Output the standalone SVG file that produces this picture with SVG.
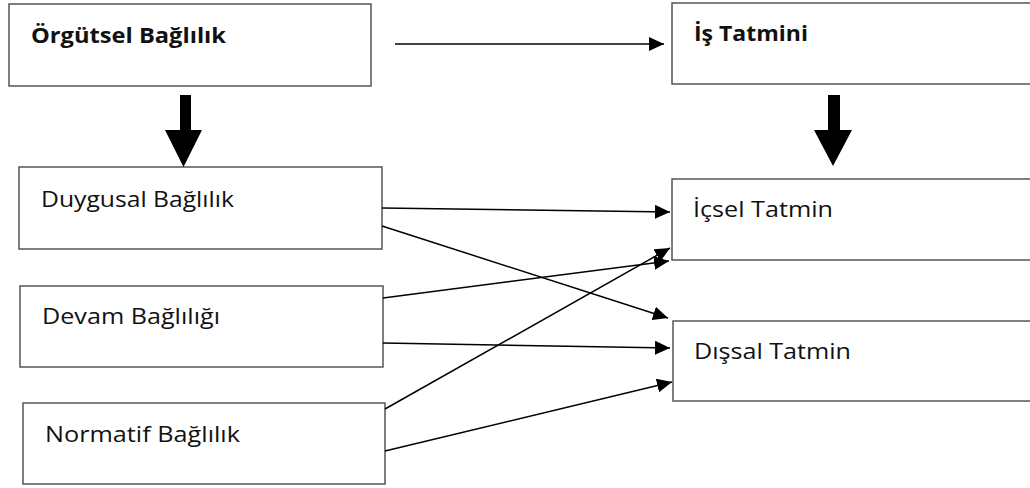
<svg xmlns="http://www.w3.org/2000/svg" width="1030" height="488" viewBox="0 0 1030 488">
<style>
.box{fill:#fff;stroke:#555;stroke-width:1.5}
.t{font-family:"Open Sans","DejaVu Sans",sans-serif;font-size:22px;fill:#111}
.b{font-weight:bold;font-size:21px}
.c{stroke:#000;stroke-width:1.5;fill:none;marker-end:url(#ah)}
.big{fill:#000}
</style>
<defs>
<marker id="ah" markerUnits="userSpaceOnUse" markerWidth="16" markerHeight="14" viewBox="0 0 16 14" refX="15" refY="7" orient="auto">
<path d="M0,0 L15,7 L0,14 Z" fill="#000"/>
</marker>
</defs>
<rect width="1030" height="488" fill="#fff"/>
<g id="orgutsel"><rect class="box" x="9" y="4" width="362" height="82"/><text class="t b" x="31" y="43" textLength="195" lengthAdjust="spacingAndGlyphs">Örgütsel Bağlılık</text></g>
<g id="is-tatmini"><rect class="box" x="672" y="3" width="370" height="81"/><text class="t b" x="694" y="41" textLength="114" lengthAdjust="spacingAndGlyphs">İş Tatmini</text></g>
<g id="duygusal"><rect class="box" x="19" y="167" width="363" height="82"/><text class="t" x="41" y="207" textLength="193" lengthAdjust="spacingAndGlyphs">Duygusal Bağlılık</text></g>
<g id="devam"><rect class="box" x="20" y="286" width="363" height="81"/><text class="t" x="42" y="324" textLength="178" lengthAdjust="spacingAndGlyphs">Devam Bağlılığı</text></g>
<g id="normatif"><rect class="box" x="23" y="403" width="362" height="81"/><text class="t" x="45" y="442" textLength="195" lengthAdjust="spacingAndGlyphs">Normatif Bağlılık</text></g>
<g id="icsel"><rect class="box" x="672" y="179" width="370" height="81"/><text class="t" x="693" y="217" textLength="140" lengthAdjust="spacingAndGlyphs">İçsel Tatmin</text></g>
<g id="dissal"><rect class="box" x="673" y="321" width="370" height="80"/><text class="t" x="694" y="359" textLength="157" lengthAdjust="spacingAndGlyphs">Dışsal Tatmin</text></g>
<g id="connectors">
<polygon class="big" points="180,95 191,95 191,130 202,130 183.5,167 165,130 180,130"/>
<polygon class="big" points="828,95 840,95 840,130 852,130 833,166 814,130 828,130"/>
<line class="c" x1="395" y1="44" x2="664" y2="44"/>
<line class="c" x1="382" y1="208" x2="670" y2="212"/>
<line class="c" x1="382" y1="226" x2="668" y2="318"/>
<line class="c" x1="383" y1="298" x2="669" y2="261"/>
<line class="c" x1="383" y1="343" x2="670" y2="348"/>
<line class="c" x1="385" y1="409" x2="670" y2="248"/>
<line class="c" x1="385" y1="451" x2="672" y2="382"/>
</g>
</svg>
